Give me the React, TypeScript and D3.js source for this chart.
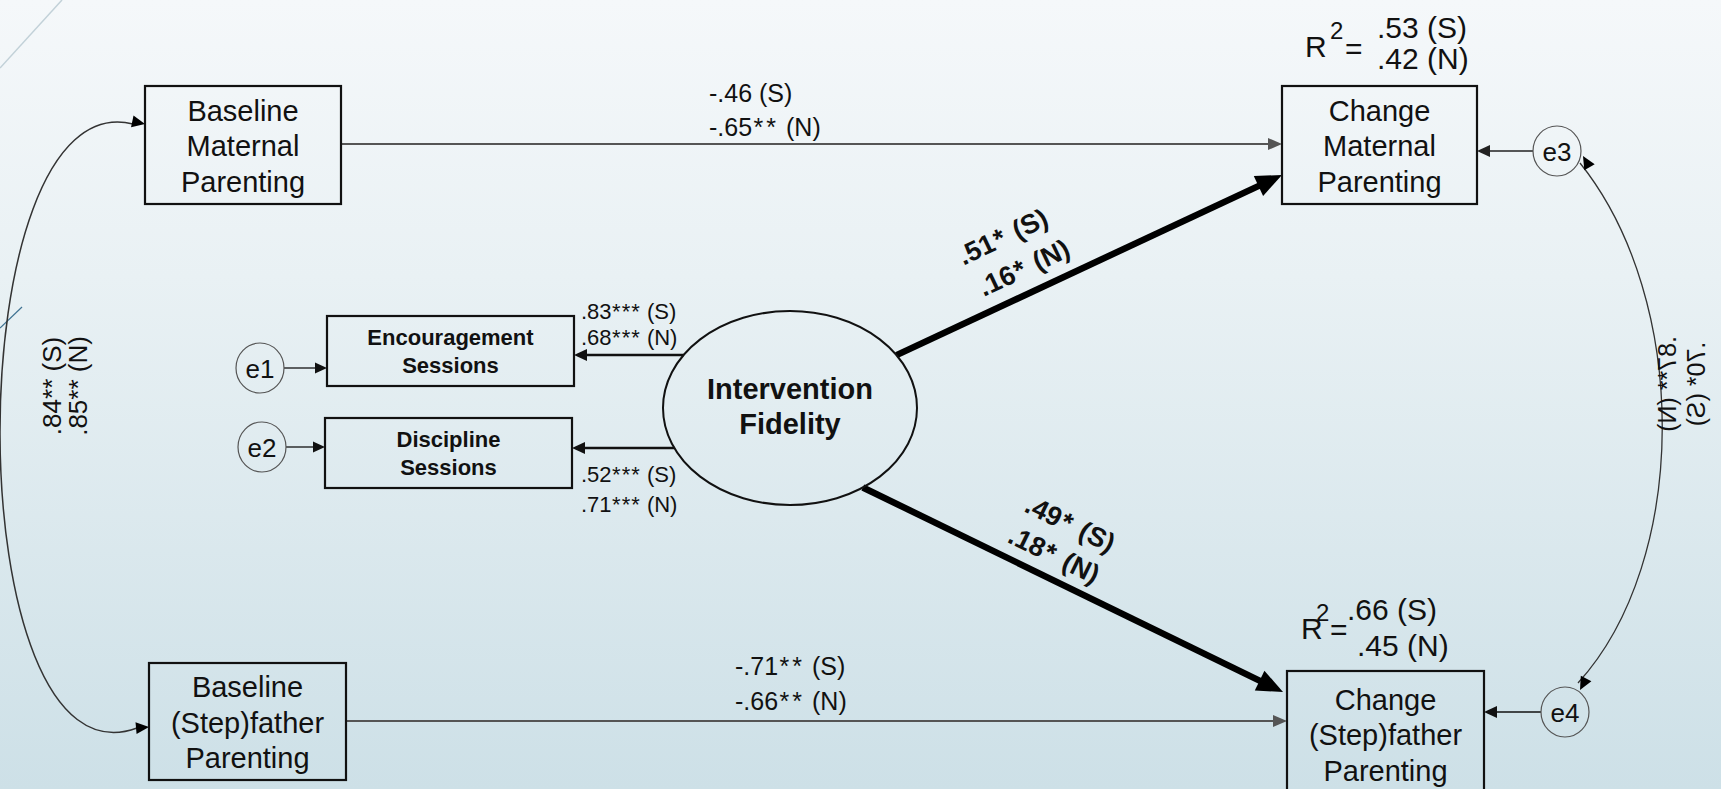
import React from "react";
import * as d3 from "d3";

// ---------- DATA ----------
const observedVars: string[][] = [
  ["Baseline", "Maternal", "Parenting"],
  ["Baseline", "(Step)father", "Parenting"],
  ["Change", "Maternal", "Parenting"],
  ["Change", "(Step)father", "Parenting"],
];
const indicatorVars: string[][] = [
  ["Encouragement", "Sessions"],
  ["Discipline", "Sessions"],
];
const latentVar: string[] = ["Intervention", "Fidelity"];
const errorTerms: string[] = ["e1", "e2", "e3", "e4"];
const stabilityCoefs: string[][] = [
  ["-.46 (S)", "-.65** (N)"],
  ["-.71** (S)", "-.66** (N)"],
];
const loadingCoefs: string[][] = [
  [".83*** (S)", ".68*** (N)"],
  [".52*** (S)", ".71*** (N)"],
];
const fidelityCoefs: string[][] = [
  [".51* (S)", ".16* (N)"],
  [".49* (S)", ".18* (N)"],
];
const baselineCov: string[] = [".84** (S)", ".85** (N)"];
const residualCov: string[] = [".87** (N)", ".70* (S)"];
const rSquared: string[][] = [
  [".53 (S)", ".42 (N)"],
  [".66 (S)", ".45 (N)"],
];

// ---------- LAYOUT ----------
const W = 1721;
const H = 789;
const FONT = "'Liberation Sans', Arial, Helvetica, sans-serif";

const boxes = [
  { x: 145, y: 86, w: 196, h: 118 },
  { x: 149, y: 663, w: 197, h: 117 },
  { x: 1282, y: 86, w: 195, h: 118 },
  { x: 1287, y: 671, w: 197, h: 130 },
];
const indBoxes = [
  { x: 327, y: 316, w: 247, h: 70 },
  { x: 325, y: 418, w: 247, h: 70 },
];
const latent = { cx: 790, cy: 408, rx: 127, ry: 97 };
const errs = [
  { cx: 260, cy: 368 },
  { cx: 262, cy: 447 },
  { cx: 1557, cy: 151 },
  { cx: 1565, cy: 712 },
];
const ERX = 24;
const ERY = 25;

function arrowParts(x1: number, y1: number, x2: number, y2: number, hl: number, hw: number) {
  const dx = x2 - x1;
  const dy = y2 - y1;
  const L = Math.hypot(dx, dy);
  const ux = dx / L;
  const uy = dy / L;
  const bx = x2 - ux * hl;
  const by = y2 - uy * hl;
  const px = -uy;
  const py = ux;
  const head = `M${x2},${y2} L${bx + px * hw / 2},${by + py * hw / 2} L${bx - px * hw / 2},${by - py * hw / 2} Z`;
  return { x1, y1, x2: bx + ux * 1, y2: by + uy * 1, head };
}

function Arrow(props: {
  x1: number; y1: number; x2: number; y2: number;
  hl: number; hw: number; sw: number; color: string;
}) {
  const a = arrowParts(props.x1, props.y1, props.x2, props.y2, props.hl, props.hw);
  return (
    <g>
      <line x1={a.x1} y1={a.y1} x2={a.x2} y2={a.y2} stroke={props.color} strokeWidth={props.sw} />
      <path d={a.head} fill={props.color} />
    </g>
  );
}

function headAt(x: number, y: number, angleDeg: number, hl: number, hw: number, color: string) {
  const a = (angleDeg * Math.PI) / 180;
  const ux = Math.cos(a);
  const uy = Math.sin(a);
  const bx = x - ux * hl;
  const by = y - uy * hl;
  const px = -uy;
  const py = ux;
  return (
    <path
      d={`M${x},${y} L${bx + px * hw / 2},${by + py * hw / 2} L${bx - px * hw / 2},${by - py * hw / 2} Z`}
      fill={color}
    />
  );
}

function ellipseXAt(y: number, side: number) {
  const t = (y - latent.cy) / latent.ry;
  return latent.cx + side * latent.rx * Math.sqrt(Math.max(0, 1 - t * t));
}
function ellipsePt(deg: number) {
  const a = (deg * Math.PI) / 180;
  return [latent.cx + latent.rx * Math.cos(a), latent.cy + latent.ry * Math.sin(a)];
}

// asterisks given a little extra spacing (the original font has wider asterisks)
function starSpans(s: string, spacing: number) {
  const m = s.match(/^([^*]*)(\*+)(.*)$/);
  if (!m) return s;
  return [
    <tspan key="a">{m[1]}</tspan>,
    <tspan key="b" dx={spacing * 0.5} letterSpacing={spacing}>{m[2]}</tspan>,
    <tspan key="c">{m[3]}</tspan>,
  ];
}

function MultiLine(props: {
  lines: string[]; cx: number; cy: number; lh: number; size: number; weight?: string;
}) {
  const n = props.lines.length;
  return (
    <>
      {props.lines.map((t, i) => (
        <text
          key={i}
          x={props.cx}
          y={props.cy + (i - (n - 1) / 2) * props.lh}
          textAnchor="middle"
          dominantBaseline="central"
          fontSize={props.size}
          fontWeight={props.weight || "normal"}
          fontFamily={FONT}
          fill="#111"
        >
          {t}
        </text>
      ))}
    </>
  );
}

export default function App() {
  const leftCurve = d3.path();
  leftCurve.moveTo(133, 124);
  leftCurve.bezierCurveTo(-45, 80, -45, 795, 137, 728);
  const rightCurve = d3.path();
  rightCurve.moveTo(1580, 163);
  rightCurve.bezierCurveTo(1690, 300, 1690, 560, 1578, 683);

  const topStart = ellipsePt(-33);
  const botStart = ellipsePt(55);
  const encY = 355;
  const discY = 448;

  const labelStyle = { fontFamily: FONT, fill: "#111" } as const;

  return (
    <svg
      width={W}
      height={H}
      viewBox={`0 0 ${W} ${H}`}
      style={{ position: "absolute", left: 0, top: 0, display: "block" }}
    >
      <defs>
        <linearGradient id="bg" x1="0" y1="0" x2="0" y2="1">
          <stop offset="0" stopColor="#f5f8fa" />
          <stop offset="0.35" stopColor="#e9f1f4" />
          <stop offset="1" stopColor="#cde0e7" />
        </linearGradient>
      </defs>
      <rect x={0} y={0} width={W} height={H} fill="url(#bg)" />

      {/* decorative template lines */}
      <line x1={0} y1={68} x2={62} y2={0} stroke="#c2d1d8" strokeWidth={1.5} />
      <line x1={0} y1={328} x2={22} y2={307} stroke="#3f7292" strokeWidth={1.2} />

      {/* left covariance curve */}
      <path d={leftCurve.toString()} fill="none" stroke="#333" strokeWidth={1.5} />
      {headAt(145, 124, 12, 13, 12, "#000")}
      {headAt(149, 727, -5, 13, 12, "#000")}
      {baselineCov.map((t, i) => (
        <text
          key={i}
          transform={`translate(${52 + i * 26},${386}) rotate(-90)`}
          textAnchor="middle"
          dominantBaseline="central"
          fontSize={26}
          {...labelStyle}
        >
          {t}
        </text>
      ))}

      {/* right residual covariance curve */}
      <path d={rightCurve.toString()} fill="none" stroke="#333" strokeWidth={1.3} />
      {headAt(1583, 156, -120, 13, 12, "#000")}
      {headAt(1580, 690, 118, 13, 12, "#000")}
      {residualCov.map((t, i) => (
        <text
          key={i}
          transform={`translate(${1667 + i * 29},${384}) rotate(90) scale(1,-1)`}
          textAnchor="middle"
          dominantBaseline="central"
          fontSize={25}
          {...labelStyle}
        >
          {t}
        </text>
      ))}

      {/* stability paths */}
      <Arrow x1={boxes[0].x + boxes[0].w} y1={144} x2={boxes[2].x} y2={144} hl={14} hw={12} sw={2} color="#555" />
      <Arrow x1={boxes[1].x + boxes[1].w} y1={721} x2={boxes[3].x} y2={721} hl={14} hw={12} sw={2} color="#555" />
      {stabilityCoefs[0].map((t, i) => (
        <text key={i} x={709} y={93 + i * 34} dominantBaseline="central" fontSize={25} {...labelStyle}>
          {starSpans(t, 3)}
        </text>
      ))}
      {stabilityCoefs[1].map((t, i) => (
        <text key={i} x={735} y={666 + i * 35} dominantBaseline="central" fontSize={25} {...labelStyle}>
          {starSpans(t, 3)}
        </text>
      ))}

      {/* latent -> outcome thick paths */}
      <Arrow x1={topStart[0]} y1={topStart[1]} x2={boxes[2].x} y2={175} hl={26} hw={22} sw={6.5} color="#000" />
      <Arrow x1={botStart[0]} y1={botStart[1]} x2={boxes[3].x - 4} y2={692} hl={26} hw={22} sw={6.5} color="#000" />
      {fidelityCoefs[0].map((t, i) => (
        <text
          key={i}
          transform={`translate(${1003 + i * 21},${237 + i * 31}) rotate(-25.4)`}
          textAnchor="middle"
          dominantBaseline="central"
          fontSize={27}
          fontWeight="bold"
          {...labelStyle}
        >
          {starSpans(t, 3)}
        </text>
      ))}
      {fidelityCoefs[1].map((t, i) => (
        <text
          key={i}
          transform={`translate(${1070 - i * 16},${524 + i * 31}) rotate(26)`}
          textAnchor="middle"
          dominantBaseline="central"
          fontSize={27}
          fontWeight="bold"
          {...labelStyle}
        >
          {starSpans(t, 3)}
        </text>
      ))}

      {/* latent -> indicators */}
      <Arrow x1={ellipseXAt(encY, -1)} y1={encY} x2={indBoxes[0].x + indBoxes[0].w} y2={encY} hl={13} hw={12} sw={2.5} color="#111" />
      <Arrow x1={ellipseXAt(discY, -1)} y1={discY} x2={indBoxes[1].x + indBoxes[1].w} y2={discY} hl={13} hw={12} sw={2.5} color="#111" />
      {loadingCoefs[0].map((t, i) => (
        <text key={i} x={581} y={311 + i * 26} dominantBaseline="central" fontSize={22} {...labelStyle}>
          {starSpans(t, 1)}
        </text>
      ))}
      {loadingCoefs[1].map((t, i) => (
        <text key={i} x={581} y={474 + i * 30} dominantBaseline="central" fontSize={22} {...labelStyle}>
          {starSpans(t, 1)}
        </text>
      ))}

      {/* error terms -> indicators / outcomes */}
      <Arrow x1={errs[0].cx + ERX} y1={errs[0].cy} x2={indBoxes[0].x} y2={errs[0].cy} hl={12} hw={11} sw={1.3} color="#111" />
      <Arrow x1={errs[1].cx + ERX} y1={errs[1].cy} x2={indBoxes[1].x} y2={errs[1].cy} hl={12} hw={11} sw={1.3} color="#111" />
      <Arrow x1={errs[2].cx - ERX} y1={errs[2].cy} x2={boxes[2].x + boxes[2].w} y2={errs[2].cy} hl={13} hw={12} sw={1.3} color="#222" />
      <Arrow x1={errs[3].cx - ERX} y1={errs[3].cy} x2={boxes[3].x + boxes[3].w} y2={errs[3].cy} hl={13} hw={12} sw={1.5} color="#111" />

      {/* observed variable boxes */}
      {boxes.map((b, i) => (
        <g key={i}>
          <rect x={b.x} y={b.y} width={b.w} height={b.h} fill="none" stroke="#111" strokeWidth={2.2} />
          <MultiLine
            lines={observedVars[i]}
            cx={b.x + b.w / 2}
            cy={i === 3 ? 735 : b.y + b.h / 2 + 1}
            lh={35.5}
            size={29}
          />
        </g>
      ))}

      {/* indicator boxes */}
      {indBoxes.map((b, i) => (
        <g key={i}>
          <rect x={b.x} y={b.y} width={b.w} height={b.h} fill="none" stroke="#111" strokeWidth={2.2} />
          <MultiLine lines={indicatorVars[i]} cx={b.x + b.w / 2} cy={b.y + b.h / 2} lh={28} size={22} weight="bold" />
        </g>
      ))}

      {/* latent ellipse */}
      <ellipse cx={latent.cx} cy={latent.cy} rx={latent.rx} ry={latent.ry} fill="none" stroke="#111" strokeWidth={2} />
      <MultiLine lines={latentVar} cx={latent.cx} cy={latent.cy - 2} lh={35} size={29} weight="bold" />

      {/* error circles */}
      {errs.map((e, i) => (
        <g key={i}>
          <ellipse cx={e.cx} cy={e.cy} rx={ERX} ry={ERY} fill="none" stroke="#555" strokeWidth={1.2} />
          <text
            x={e.cx}
            y={e.cy + 1}
            textAnchor="middle"
            dominantBaseline="central"
            fontSize={26}
            {...labelStyle}
          >
            {errorTerms[i]}
          </text>
        </g>
      ))}

      {/* R squared */}
      <text x={1305} y={46} dominantBaseline="central" fontSize={30} {...labelStyle}>R</text>
      <text x={1330} y={30} dominantBaseline="central" fontSize={24} {...labelStyle}>2</text>
      <text x={1345} y={48} dominantBaseline="central" fontSize={30} {...labelStyle}>=</text>
      {rSquared[0].map((t, i) => (
        <text key={i} x={1377} y={27 + i * 31} dominantBaseline="central" fontSize={30} {...labelStyle}>
          {t}
        </text>
      ))}
      <text x={1301} y={628} dominantBaseline="central" fontSize={30} {...labelStyle}>R</text>
      <text x={1316} y={612} dominantBaseline="central" fontSize={24} {...labelStyle}>2</text>
      <text x={1330} y={629} dominantBaseline="central" fontSize={30} {...labelStyle}>=</text>
      {rSquared[1].map((t, i) => (
        <text key={i} x={1347 + i * 10} y={609 + i * 36} dominantBaseline="central" fontSize={30} {...labelStyle}>
          {t}
        </text>
      ))}
    </svg>
  );
}
